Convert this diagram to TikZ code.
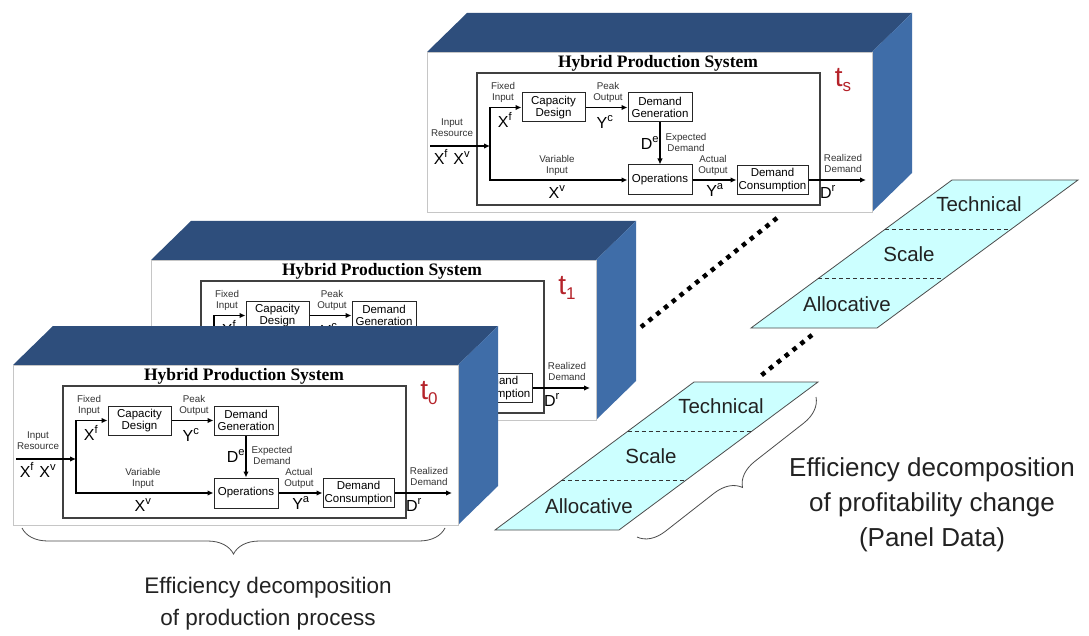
\documentclass[tikz,border=0pt]{standalone}
\usepackage{fontspec}
\setmainfont{Liberation Sans}
\newfontfamily\titlefont{Liberation Serif}
\usetikzlibrary{arrows.meta,decorations.pathreplacing,calc}

\definecolor{boxtop}{HTML}{2E4E7C}
\definecolor{boxside}{HTML}{3F6DA8}
\definecolor{tred}{HTML}{B5232A}
\definecolor{panelfill}{HTML}{CCFFFF}
\definecolor{ink}{HTML}{222222}

\newif\ifshowall
\showalltrue

\tikzset{
  face/.style={fill=white, draw=gray!45, line width=0.7pt},
  frame/.style={draw=black!75, line width=1.6pt},
  stage/.style={draw=black!85, line width=1pt, fill=white, minimum height=29pt,
    align=center, inner sep=1pt, font=\fontsize{11.5}{12.5}\selectfont},
  lbl/.style={align=center, inner sep=0pt, text=black!80,
    font=\fontsize{9.8}{11}\selectfont},
  sym/.style={inner sep=0pt, font=\fontsize{16}{16}\selectfont},
  hpstitle/.style={inner sep=0pt, font=\titlefont\bfseries\fontsize{17.5}{18}\selectfont},
  tlabel/.style={inner sep=0pt, text=tred},
  flow/.style={line width=1.8pt, -{Latex[length=6pt,width=5.5pt]}},
  panel/.style={fill=panelfill, draw=black!70, line width=0.8pt},
  divider/.style={draw=black!80, line width=0.7pt, dash pattern=on 4pt off 3pt},
  paneltext/.style={inner sep=0pt, text=ink, font=\fontsize{20.5}{21}\selectfont},
  bigdots/.style={line width=4.5pt, dash pattern=on 4.5pt off 5.5pt},
  bracket/.style={decorate, decoration={brace, amplitude=26pt, aspect=0.5},
    draw=black!70, line width=0.8pt},
  caption/.style={align=center, inner sep=0pt, text=ink}
}

% One production-system block as a 3-D slab, placed by its front top-left corner.
% With \showallfalse the labels of the lower-left part (covered by the next slab) are left out.
\newcommand\prodsystem[4]{%
\begin{scope}[shift={(#1,#2)}, name prefix=#3-]
  \fill[boxtop] (0,0) -- (40,-39) -- (485,-39) -- (445,0) -- cycle;
  \fill[boxside] (445,0) -- (485,-39) -- (485,121) -- (445,160) -- cycle;
  \draw[face] (0,0) rectangle (445,160);
  \draw[frame] (50,21) rectangle (393,153);
  \node[hpstitle] (title) at (231,11) {Hybrid Production System};
  \node[tlabel] (time) at (416,28)
    {\fontsize{28}{28}\selectfont t\raisebox{-5pt}{\fontsize{17}{17}\selectfont #4}};
  \node[stage, minimum width=63pt] (cap) at (126.5,55.5) {Capacity\\Design};
  \node[stage, minimum width=64pt] (gen) at (233,55.5) {Demand\\Generation};
  \node[stage, minimum width=64pt, minimum height=30pt] (ops) at (233,128)
    {\ifshowall Operations\fi};
  \node[stage, minimum width=71pt] (con) at (345.5,128) {Demand\\Consumption};
  \coordinate (in) at (3,94);
  \coordinate (jm) at (63,94);
  \coordinate (out) at (439,128);
  \draw[flow] (jm) |- (cap);
  \draw[flow] (jm) |- (ops);
  \draw[flow] (in) -- (jm);
  \draw[flow] (cap) -- (gen);
  \draw[flow] (gen) -- (ops);
  \draw[flow] (ops) -- (con);
  \draw[flow] (con) -- (out);
  \node[lbl] (fixed) at (76,40) {Fixed\\Input};
  \node[sym] (xf) at (78,68) {X\textsuperscript{f}};
  \node[lbl] (peak) at (181,40) {Peak\\Output};
  \node[sym] (yc) at (178,70) {Y\textsuperscript{c}};
  \node[lbl] (real) at (416,111) {Realized\\Demand};
  \node[sym] (dr) at (401,140) {D\textsuperscript{r}};
  \ifshowall
    \node[lbl] (inres) at (25,76) {Input\\Resource};
    \node[sym] (xin) at (25,105) {X\textsuperscript{f}\,\,X\textsuperscript{v}};
    \node[sym] (de) at (223,91) {D\textsuperscript{e}};
    \node[lbl] (expd) at (259,90) {Expected\\Demand};
    \node[lbl] (var) at (130,113) {Variable\\Input};
    \node[sym] (xv) at (130,140) {X\textsuperscript{v}};
    \node[lbl] (act) at (286,113) {Actual\\Output};
    \node[sym] (ya) at (288,138) {Y\textsuperscript{a}};
  \fi
\end{scope}}

\begin{document}
\begin{tikzpicture}[x=1pt,y=-1pt]
\useasboundingbox (0,0) rectangle (1089,636);
\fill[white] (0,0) rectangle (1089,636);

% stacked periods, back to front
\prodsystem{427}{52}{s}{s}
\showallfalse
\prodsystem{151}{260}{b}{1}
\showalltrue
\prodsystem{13}{365}{a}{0}

% dotted links
\coordinate (dotA) at (777,218);
\coordinate (dotB) at (641,327);
\coordinate (dotC) at (812,335);
\coordinate (dotD) at (758,378);
\draw[bigdots] (dotA) -- (dotB);
\draw[bigdots] (dotC) -- (dotD);

% efficiency panels
\coordinate (u1) at (751,328);
\coordinate (u2) at (877,328);
\coordinate (u3) at (1078,180);
\coordinate (u4) at (952,180);
\draw[panel] (u1) -- (u2) -- (u3) -- (u4) -- cycle;
\draw[divider] ($(u1)!1/3!(u4)$) -- ($(u2)!1/3!(u3)$);
\draw[divider] ($(u1)!2/3!(u4)$) -- ($(u2)!2/3!(u3)$);
\node[paneltext] (uTech) at (979,204) {Technical};
\node[paneltext] (uScale) at (909,254) {Scale};
\node[paneltext] (uAlloc) at (847,304) {Allocative};

\coordinate (l1) at (495,530);
\coordinate (l2) at (619,530);
\coordinate (l3) at (818,382);
\coordinate (l4) at (694,382);
\draw[panel] (l1) -- (l2) -- (l3) -- (l4) -- cycle;
\draw[divider] ($(l1)!1/3!(l4)$) -- ($(l2)!1/3!(l3)$);
\draw[divider] ($(l1)!2/3!(l4)$) -- ($(l2)!2/3!(l3)$);
\node[paneltext] (lTech) at (721,406) {Technical};
\node[paneltext] (lScale) at (651,456) {Scale};
\node[paneltext] (lAlloc) at (589,506) {Allocative};

% braces and captions
\coordinate (brA) at (445,528);
\coordinate (brB) at (22,528);
\draw[bracket] (brA) -- (brB);
\coordinate (brC) at (816,397);
\coordinate (brD) at (637,537);
\draw[bracket] (brC) -- (brD);

\node[caption, font=\fontsize{26}{35}\selectfont] (capR) at (932,505)
  {Efficiency decomposition\\of profitability change\\(Panel Data)};
\node[caption, font=\fontsize{22.5}{32}\selectfont] (capL) at (268,604)
  {Efficiency decomposition\\of production process};
\end{tikzpicture}
\end{document}
